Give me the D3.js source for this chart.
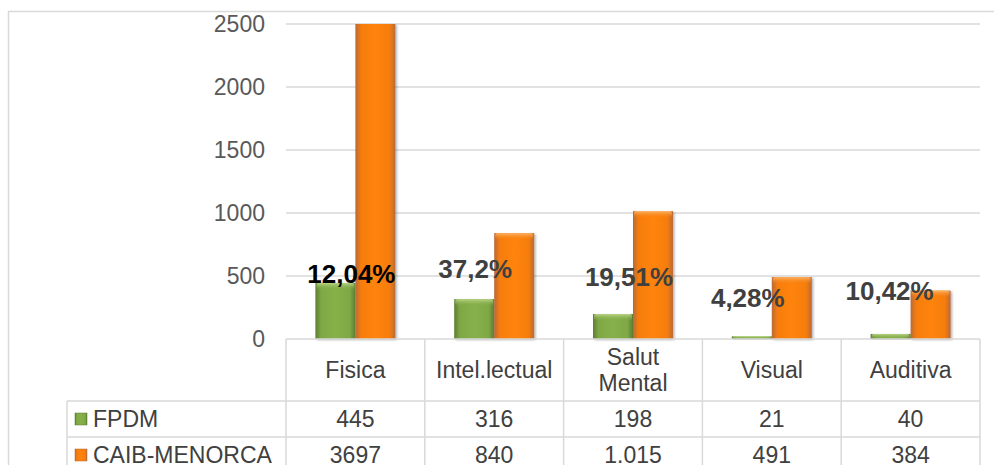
<!DOCTYPE html>
<html>
<head>
<meta charset="utf-8">
<script src="https://cdn.jsdelivr.net/npm/d3@7"></script>
<style>
  body { margin: 0; background: #fff; }
  svg { display: block; font-family: "Liberation Sans", Arial, sans-serif; }
</style>
</head>
<body>
<script>
// data
const categories = ["Fisica", "Intel.lectual", "Salut\nMental", "Visual", "Auditiva"];
const seriesNames = ["FPDM", "CAIB-MENORCA"];
const fpdm = [445, 316, 198, 21, 40];
const caib = [3697, 840, 1015, 491, 384];
const tableText = [
    ["445", "316", "198", "21", "40"],
    ["3697", "840", "1.015", "491", "384"]
];
const pctLabels = ["12,04%", "37,2%", "19,51%", "4,28%", "10,42%"];
const yTicks = [0, 500, 1000, 1500, 2000, 2500];

// canvas + plot area
const canvWidth = 994, canvHeight = 465;
const plot = {left: 286, right: 980, top: 24, bottom: 339};
const headH = 62, rowH = 36, legendLeft = 67;

const svg = d3.select("body").append("svg")
    .attr("width", canvWidth)
    .attr("height", canvHeight);

// gradients for the "3D" look of the bars
const defs = svg.append("defs");
const barColors = [
    {id: "g0", edge: "#5c7d31", mid: "#7fa845", cap: "#b9d486"},
    {id: "g1", edge: "#b8693a", mid: "#f67d0c", cap: "#fbb46a"}
];
barColors.forEach(c => {
    const lg = defs.append("linearGradient").attr("id", c.id);
    lg.append("stop").attr("offset", "0%").attr("stop-color", c.edge);
    lg.append("stop").attr("offset", "14%").attr("stop-color", c.mid);
    lg.append("stop").attr("offset", "50%").attr("stop-color", d3.color(c.mid).brighter(0.15));
    lg.append("stop").attr("offset", "86%").attr("stop-color", c.mid);
    lg.append("stop").attr("offset", "100%").attr("stop-color", c.edge);
    const cg = defs.append("linearGradient").attr("id", c.id + "cap")
        .attr("x1", 0).attr("y1", 0).attr("x2", 0).attr("y2", 1);
    cg.append("stop").attr("offset", "0%").attr("stop-color", c.cap);
    cg.append("stop").attr("offset", "100%").attr("stop-color", c.mid).attr("stop-opacity", 0);
});
defs.append("filter").attr("id", "shadow")
    .attr("x", "-20%").attr("y", "-5%").attr("width", "140%").attr("height", "115%")
    .append("feDropShadow").attr("dx", 1.5).attr("dy", 1).attr("stdDeviation", 1.2)
    .attr("flood-color", "#000").attr("flood-opacity", 0.3);

// outer chart frame
svg.append("rect")
    .attr("x", 8.5).attr("y", 11.5)
    .attr("width", canvWidth + 10).attr("height", canvHeight + 10)
    .attr("fill", "none").attr("stroke", "#d9d9d9").attr("stroke-width", 1.5);

// scales
const xScale = d3.scaleBand().domain(d3.range(categories.length))
    .range([plot.left, plot.right]).padding(0);
const bw = xScale.bandwidth();
const xSub = d3.scaleBand().domain(d3.range(seriesNames.length))
    .range([bw * 0.212, bw * 0.788]).padding(0);
const yScale = d3.scaleLinear().domain([0, 2500]).range([plot.bottom, plot.top]);

// gridlines + y tick labels
const gridColor = "#d9d9d9";
svg.append("g").selectAll("line")
    .data(yTicks.filter(t => t > 0))
    .enter().append("line")
    .attr("x1", plot.left).attr("x2", plot.right)
    .attr("y1", d => yScale(d)).attr("y2", d => yScale(d))
    .attr("stroke", gridColor).attr("stroke-width", 1.5);

svg.append("g").selectAll("text")
    .data(yTicks)
    .enter().append("text")
    .attr("x", 265)
    .attr("y", d => yScale(d))
    .attr("dy", "0.35em")
    .attr("text-anchor", "end")
    .attr("font-size", "23px")
    .attr("fill", "#595959")
    .text(d => d);

// bars
const series = [fpdm, caib];
const ymax = yScale.domain()[1];
const bars = svg.append("g").attr("id", "bars");
series.forEach((vals, s) => {
    const g = bars.append("g");
    g.selectAll("rect.bar")
        .data(vals)
        .enter().append("rect")
        .attr("class", "bar")
        .attr("x", (d, i) => xScale(i) + xSub(s))
        .attr("y", d => yScale(Math.min(d, ymax)))
        .attr("width", xSub.bandwidth())
        .attr("height", d => plot.bottom - yScale(Math.min(d, ymax)))
        .attr("fill", `url(#${barColors[s].id})`)
        .attr("filter", "url(#shadow)");
    // lighter top cap (not on bars that are cut at the top)
    g.selectAll("rect.cap")
        .data(vals.map((d, i) => ({d, i})).filter(o => o.d < ymax))
        .enter().append("rect")
        .attr("class", "cap")
        .attr("x", o => xScale(o.i) + xSub(s) + 1)
        .attr("y", o => yScale(o.d))
        .attr("width", xSub.bandwidth() - 2)
        .attr("height", o => Math.min(7, plot.bottom - yScale(o.d)))
        .attr("rx", 2)
        .attr("fill", `url(#${barColors[s].id}cap)`);
});

// data table under the plot
const table = svg.append("g").attr("id", "table");
const lineAttrs = sel => sel.attr("stroke", gridColor).attr("stroke-width", 1.5);
const tBottom = plot.bottom + headH + rowH * 2;

// horizontal lines
lineAttrs(table.append("line")
    .attr("x1", plot.left).attr("x2", plot.right)
    .attr("y1", plot.bottom).attr("y2", plot.bottom));
[1, 2].forEach(r => {
    const y = plot.bottom + headH + rowH * (r - 1);
    lineAttrs(table.append("line")
        .attr("x1", legendLeft).attr("x2", plot.right)
        .attr("y1", y).attr("y2", y));
});
// vertical lines
d3.range(categories.length + 1).forEach(i => {
    const x = i < categories.length ? xScale(i) : plot.right;
    lineAttrs(table.append("line")
        .attr("x1", x).attr("x2", x)
        .attr("y1", plot.bottom).attr("y2", tBottom));
});
lineAttrs(table.append("line")
    .attr("x1", legendLeft).attr("x2", legendLeft)
    .attr("y1", plot.bottom + headH).attr("y2", tBottom));

// category headers
categories.forEach((c, i) => {
    const lines = c.split("\n");
    const cy = plot.bottom + headH / 2;
    const t = table.append("text")
        .attr("x", xScale(i) + bw / 2)
        .attr("text-anchor", "middle")
        .attr("font-size", "23px")
        .attr("fill", "#404040");
    lines.forEach((ln, k) => {
        t.append("tspan")
            .attr("x", xScale(i) + bw / 2)
            .attr("y", cy + (k - (lines.length - 1) / 2) * 26)
            .attr("dy", "0.35em")
            .text(ln);
    });
});

// series rows: legend key + values
seriesNames.forEach((name, s) => {
    const cy = plot.bottom + headH + rowH * s + rowH / 2;
    table.append("rect")
        .attr("x", 75).attr("y", cy - 6)
        .attr("width", 12).attr("height", 12)
        .attr("fill", `url(#${barColors[s].id})`)
        .attr("stroke", barColors[s].edge).attr("stroke-width", 0.5);
    table.append("text")
        .attr("x", 93).attr("y", cy).attr("dy", "0.35em")
        .attr("font-size", "23px").attr("fill", "#404040")
        .text(name);
    table.selectAll(null)
        .data(tableText[s])
        .enter().append("text")
        .attr("x", (d, i) => xScale(i) + bw / 2)
        .attr("y", cy).attr("dy", "0.35em")
        .attr("text-anchor", "middle")
        .attr("font-size", "23px").attr("fill", "#404040")
        .text(d => d);
});

// percentage labels (hand-placed in the original, nudged from the 500 line)
const labelNudge = [[-4, 7], [-19, 2], [-4, 10], [-24, 31], [-21, 24]];
svg.append("g").selectAll("text")
    .data(pctLabels)
    .enter().append("text")
    .attr("x", (d, i) => xScale(i) + bw / 2 + labelNudge[i][0])
    .attr("y", (d, i) => yScale(500) + labelNudge[i][1])
    .attr("text-anchor", "middle")
    .attr("font-size", "26px")
    .attr("font-weight", "bold")
    .attr("fill", (d, i) => i === 0 ? "#000" : "#404040")
    .text(d => d);
</script>
</body>
</html>
